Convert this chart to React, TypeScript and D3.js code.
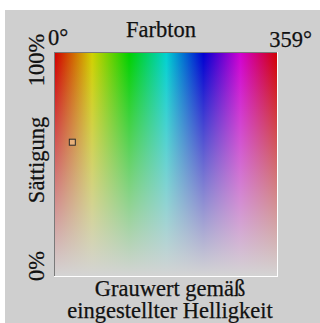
import React from "react";
import * as d3 from "d3";

const hueDomain = [0, 359];
const satDomain = [0, 100];
const hueStops = [0, 30, 60, 90, 120, 150, 180, 210, 240, 270, 300, 330, 359];
const hueTickLabels = ["0°", "359°"];
const satTickLabels = ["100%", "0%"];
const markerHue = [28];
const markerSat = [60];
const titleText = "Farbton";
const yTitle = "Sättigung";
const bottomLines = ["Grauwert gemäß", "eingestellter Helligkeit"];

const W = 320;
const H = 323;
const left = 55, right = 277, top = 53, bottom = 276;

export default function App() {
  const x = d3.scaleLinear().domain(hueDomain).range([left, right]);
  const y = d3.scaleLinear().domain(satDomain).range([bottom, top]);
  const gray = "#d4d4d4";
  const font = "'Liberation Serif', 'Times New Roman', serif";
  const ts = { fontFamily: font, fontSize: "22.5px", fill: "#111", stroke: "#111", strokeWidth: 0.25 };
  return (
    <svg width={W} height={H} style={{ position: "absolute", left: 0, top: 0 }}>
      <defs>
        <linearGradient id="hue" x1="0" x2="1" y1="0" y2="0">
          {hueStops.map((h) => (
            <stop key={h} offset={(x(h) - left) / (right - left)} stopColor={d3.hsl(h, 1, 0.41).formatHex()} />
          ))}
        </linearGradient>
        <linearGradient id="sat" x1="0" x2="0" y1="0" y2="1">
          <stop offset="0" stopColor={gray} stopOpacity={0} />
          <stop offset="1" stopColor={gray} stopOpacity={1} />
        </linearGradient>
      </defs>
      <rect x={0} y={0} width={W} height={H} fill="#ffffff" />
      <rect x={5} y={10} width={W - 5} height={H - 10} fill="#cfcfcf" />
      <rect x={left} y={y(100)} width={x(359) - left} height={y(0) - y(100)} fill="url(#hue)" />
      <rect x={left} y={y(100)} width={x(359) - left} height={y(0) - y(100)} fill="url(#sat)" />
      <line x1={left - 0.5} x2={left - 0.5} y1={top - 1} y2={bottom + 1} stroke="#7a7a7a" strokeWidth={1} />
      <line x1={left - 1} x2={right + 1} y1={top - 0.5} y2={top - 0.5} stroke="#7a7a7a" strokeWidth={1} />
      <line x1={right + 0.5} x2={right + 0.5} y1={top - 1} y2={bottom + 1} stroke="#ffffff" strokeWidth={1} />
      <line x1={left - 1} x2={right + 1} y1={bottom + 0.5} y2={bottom + 0.5} stroke="#ffffff" strokeWidth={1} />
      {markerHue.map((h, i) => (
        <rect key={i} x={x(h) - 3} y={y(markerSat[i]) - 3} width={6} height={6}
          fill="#e8b07a" stroke="#2a2a2a" strokeWidth={1} />
      ))}
      <text x={161} y={37} textAnchor="middle" style={ts}>{titleText}</text>
      <text x={48} y={45} textAnchor="start" style={ts}>{hueTickLabels[0]}</text>
      <text x={312} y={47} textAnchor="end" style={ts}>{hueTickLabels[1]}</text>
      <text transform={`translate(44,60) rotate(-90)`} textAnchor="middle" style={ts}>{satTickLabels[0]}</text>
      <text transform={`translate(44,266) rotate(-90)`} textAnchor="middle" style={ts}>{satTickLabels[1]}</text>
      <text transform={`translate(44,160) rotate(-90)`} textAnchor="middle" style={ts}>{yTitle}</text>
      <text x={170} y={296} textAnchor="middle" style={ts}>
        {bottomLines.map((t, i) => (
          <tspan key={i} x={170} dy={i === 0 ? 0 : 22}>{t}</tspan>
        ))}
      </text>
    </svg>
  );
}
